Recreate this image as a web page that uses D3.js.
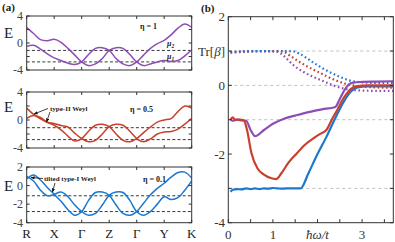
<!DOCTYPE html>
<html><head><meta charset="utf-8">
<script src="https://cdn.jsdelivr.net/npm/d3@7"></script>
<style>
body{margin:0;background:#fff}
svg{display:block}
text{font-family:"Liberation Serif","DejaVu Serif",serif;fill:#222}
</style>
</head><body>
<svg id="c" width="395" height="242"></svg>
<script>
// ---------- Panel (a): band structures ----------
const kLabels = ["R","X","Γ","Z","Γ","Y","K"];
const kGrid = [0,0.25,0.5,0.75,1,1.25,1.5,1.75,2,2.25,2.5,2.75,3,3.25,3.5,3.75,4,4.25,4.5,4.75,5,5.25,5.5,5.75,6];
const eta1BandA  = [-0.5,-0.35,-0.9,-1.6,-2.2,-2.6,-3.0,-3.2,-2.8,-1.7,-0.8,-0.7,-1.1,-2.3,-3.1,-3.35,-2.8,-1.8,-0.8,-0.1,0.4,1.2,2.2,2.8,2.3];
const eta1BandB  = [2.3,1.4,0.5,0.35,0.55,0.1,-0.8,-1.8,-2.8,-3.35,-3.1,-2.3,-1.1,-0.7,-0.8,-1.7,-2.8,-3.35,-3.1,-2.8,-2.6,-2.75,-2.6,-1.9,-1.0];
const eta05BandA = [1.7,0.8,0.15,-0.32,-0.5,-0.8,-1.0,-1.9,-2.65,-3.1,-2.9,-2.0,-0.95,-0.6,-0.75,-1.6,-2.65,-3.1,-2.7,-2.0,-1.7,-1.65,-1.3,-0.6,0.25];
const eta05BandB = [0.25,0.65,0.35,-0.32,-0.75,-1.4,-2.3,-3.0,-2.65,-1.6,-0.75,-0.6,-0.95,-2.0,-2.9,-3.1,-2.65,-1.8,-1.0,-0.3,0.0,0.2,1.2,2.0,1.7];
const eta01BandA = [0.7,1.15,0.6,-0.2,-0.95,-1.7,-2.6,-3.2,-2.8,-1.6,-0.75,-0.7,-1.05,-2.1,-3.0,-3.2,-2.8,-1.9,-1.0,-0.3,0.25,0.9,1.4,1.45,0.8];
const eta01BandB = [1.0,0.5,-0.5,-1.1,-0.95,-0.7,-1.2,-2.1,-2.8,-3.2,-3.0,-2.1,-1.05,-0.7,-0.75,-1.6,-2.8,-3.2,-2.8,-2.0,-1.2,-1.5,-1.3,-0.5,0.5];
const mu2 = -1.1, mu1 = -2.8;
const etaLabels = ["η = 1","η = 0.5","η = 0.1"];
const yTicksTop = [4,0,-4], yTicksMid = [4,0,-4], yTicksBot = [2,0,-2,-4];

// ---------- Panel (b): Tr[beta] vs frequency ----------
const blueSolidX = [0.05,0.1,0.2,0.3,0.4,0.5,0.6,0.7,0.8,0.9,1.0,1.1,1.2,1.3,1.4,1.5,1.62,1.8,2.0,2.2,2.4,2.6,2.75,2.9,3.1,3.4,3.7];
const blueSolidY = [-3.1,-3.04,-3.02,-3.03,-3.0,-3.02,-3.0,-3.02,-3.0,-3.01,-2.99,-3.0,-3.01,-3.0,-3.0,-3.0,-3.0,-2.55,-2.0,-1.5,-0.95,-0.45,-0.18,-0.06,-0.03,-0.03,-0.03];
const redSolidX = [0.05,0.1,0.15,0.25,0.35,0.42,0.52,0.66,0.8,0.95,1.07,1.19,1.35,1.53,1.7,1.9,2.05,2.2,2.34,2.45,2.55,2.65,2.75,2.9,3.1,3.4,3.7];
const redSolidY = [-1.0,-0.93,-1.0,-1.0,-1.02,-1.3,-1.98,-2.43,-2.6,-2.7,-2.73,-2.56,-2.25,-1.99,-1.75,-1.55,-1.42,-1.3,-0.95,-0.7,-0.45,-0.25,-0.1,-0.02,0.0,0.0,0.0];
const purpleSolidX = [0.05,0.1,0.2,0.3,0.4,0.5,0.6,0.8,1.0,1.25,1.5,1.8,2.1,2.4,2.5,2.6,2.7,2.8,3.0,3.3,3.7];
const purpleSolidY = [-1.0,-1.03,-1.0,-1.02,-1.03,-1.3,-1.48,-1.3,-1.12,-0.97,-0.88,-0.78,-0.7,-0.63,-0.4,-0.15,0.02,0.08,0.1,0.11,0.12];
const purpleDotX = [0.05,0.3,0.6,0.9,1.1,1.25,1.45,1.7,1.9,2.1,2.35,2.55,2.75,3.0,3.3,3.7];
const purpleDotY = [0.97,0.99,1.0,1.0,0.98,0.85,0.6,0.38,0.25,0.14,0.0,-0.08,-0.13,-0.15,-0.16,-0.16];
const redDotX = [0.05,0.4,0.8,1.1,1.25,1.4,1.6,1.8,2.0,2.2,2.4,2.6,2.8,3.0,3.3,3.7];
const redDotY = [0.95,0.98,1.0,1.0,0.97,0.85,0.68,0.53,0.4,0.27,0.15,0.06,0.0,-0.04,-0.06,-0.07];
const blueDotX = [0.05,0.4,0.8,1.2,1.45,1.6,1.75,1.9,2.1,2.3,2.5,2.7,2.9,3.1,3.4,3.7];
const blueDotY = [0.97,0.99,1.0,1.0,0.99,0.92,0.8,0.67,0.51,0.37,0.25,0.15,0.1,0.08,0.07,0.07];
const bYTickLabels = ["2","Tr[β]","0","","-2","","-4"];
const bYTicks = [2,1,0,-1,-2,-3,-4];
const bXTickLabels = ["0","1","ħω/t","3"];
const bGridY = [1,0,-1,-3];

const PURPLE = "#8e4db6", RED = "#c8412c", BLUE = "#1b78cf", AX = "#333";

const svg = d3.select("#c");
const defs = svg.append("defs");
defs.append("marker").attr("id","arr").attr("viewBox","0 0 10 10").attr("refX",9).attr("refY",5)
  .attr("markerWidth",5).attr("markerHeight",5).attr("orient","auto")
  .append("path").attr("d","M0,1 L10,5 L0,9 z").attr("fill","#111");

// ---------- Panel (a) ----------
const xa = d3.scaleLinear().domain([0,6]).range([26.7,191.7]);
const panels = [
  {a:eta1BandA,b:eta1BandB,color:PURPLE,dom:[-4,4],rng:[70,16],ticks:yTicksTop,eta:etaLabels[0],etaX:140,etaY:29,eY:33},
  {a:eta05BandA,b:eta05BandB,color:RED,dom:[-4,4],rng:[148,92],ticks:yTicksMid,eta:etaLabels[1],etaX:130,etaY:112,eY:107},
  {a:eta01BandA,b:eta01BandB,color:BLUE,dom:[-4,2],rng:[222.7,167],ticks:yTicksBot,eta:etaLabels[2],etaX:143,etaY:182,eY:186}
];
panels.forEach((p,i)=>{
  const y = d3.scaleLinear().domain(p.dom).range(p.rng);
  const g = svg.append("g");
  const cid = "clipa"+i;
  defs.append("clipPath").attr("id",cid).append("rect")
    .attr("x",xa(0)).attr("y",p.rng[1]).attr("width",xa(6)-xa(0)).attr("height",p.rng[0]-p.rng[1]);
  // dashed chemical potentials
  [mu2,mu1].forEach(m=>{
    g.append("line").attr("x1",xa(0)).attr("x2",xa(6)).attr("y1",y(m)).attr("y2",y(m))
      .attr("stroke","#222").attr("stroke-width",0.9).attr("stroke-dasharray","3,2.2");
  });
  const line = d3.line().x((d,j)=>xa(kGrid[j])).y(d=>y(d)).curve(d3.curveCatmullRom.alpha(0.5));
  [p.a,p.b].forEach(arr=>{
    g.append("path").attr("d",line(arr)).attr("fill","none").attr("stroke",p.color)
      .attr("stroke-width",1.5).attr("clip-path",`url(#${cid})`);
  });
  // frame
  g.append("rect").attr("x",xa(0)).attr("y",p.rng[1]).attr("width",xa(6)-xa(0)).attr("height",p.rng[0]-p.rng[1])
    .attr("fill","none").attr("stroke",AX).attr("stroke-width",1);
  // x ticks (inward, top and bottom)
  kGrid.filter((k,j)=>j%4===0).forEach(k=>{
    g.append("line").attr("x1",xa(k)).attr("x2",xa(k)).attr("y1",p.rng[0]).attr("y2",p.rng[0]-3).attr("stroke",AX);
    g.append("line").attr("x1",xa(k)).attr("x2",xa(k)).attr("y1",p.rng[1]).attr("y2",p.rng[1]+3).attr("stroke",AX);
  });
  // y ticks every 2
  d3.range(p.dom[0],p.dom[1]+0.1,2).forEach(v=>{
    g.append("line").attr("x1",xa(0)).attr("x2",xa(0)+3).attr("y1",y(v)).attr("y2",y(v)).attr("stroke",AX);
    g.append("line").attr("x1",xa(6)).attr("x2",xa(6)-3).attr("y1",y(v)).attr("y2",y(v)).attr("stroke",AX);
  });
  p.ticks.forEach(v=>{
    g.append("text").attr("x",23).attr("y",y(v)).attr("dy","0.35em").attr("text-anchor","end")
      .attr("font-size",12).style("fill","#444").text(v);
  });
  g.append("text").attr("x",4).attr("y",p.eY).attr("dy","0.35em").attr("font-size",15).text("E");
  g.append("text").attr("x",p.etaX).attr("y",p.etaY).attr("font-size",8).attr("font-weight","bold").text(p.eta);
});
// mu labels (top panel)
const yTop = d3.scaleLinear().domain([-4,4]).range([70,16]);
svg.append("text").attr("x",167).attr("y",yTop(mu2)-4).attr("font-size",8).attr("font-weight","bold").attr("font-style","italic")
  .html('μ<tspan font-size="5.5" dy="2">2</tspan>');
svg.append("text").attr("x",167).attr("y",yTop(mu1)-3).attr("font-size",8).attr("font-weight","bold").attr("font-style","italic")
  .html('μ<tspan font-size="5.5" dy="2">1</tspan>');
// k labels
kLabels.forEach((l,j)=>{
  svg.append("text").attr("x",xa(j)).attr("y",238).attr("text-anchor","middle").attr("font-size",13).text(l);
});
// annotations
svg.append("text").attr("x",50).attr("y",111).attr("font-size",7).attr("font-weight","bold").text("type-II Weyl");
svg.append("line").attr("x1",48).attr("y1",108.5).attr("x2",34).attr("y2",114).attr("stroke","#111").attr("stroke-width",0.8).attr("marker-end","url(#arr)");
svg.append("line").attr("x1",50).attr("y1",112).attr("x2",46.5).attr("y2",122).attr("stroke","#111").attr("stroke-width",0.8).attr("marker-end","url(#arr)");
svg.append("text").attr("x",44).attr("y",181).attr("font-size",7).attr("font-weight","bold").text("tilted type-I Weyl");
svg.append("line").attr("x1",43).attr("y1",178.5).attr("x2",31).attr("y2",177.5).attr("stroke","#111").attr("stroke-width",0.8).attr("marker-end","url(#arr)");
svg.append("line").attr("x1",55).attr("y1",183).attr("x2",52.5).attr("y2",192).attr("stroke","#111").attr("stroke-width",0.8).attr("marker-end","url(#arr)");
svg.append("text").attr("x",2).attr("y",11).attr("font-size",11).attr("font-weight","bold").text("(a)");

// ---------- Panel (b) ----------
const xb = d3.scaleLinear().domain([0,3.7]).range([228.3,393.3]);
const yb = d3.scaleLinear().domain([-4,2]).range([222.7,16.7]);
const gb = svg.append("g");
defs.append("clipPath").attr("id","clipb").append("rect")
  .attr("x",xb(0)).attr("y",yb(2)).attr("width",xb(3.7)-xb(0)).attr("height",yb(-4)-yb(2));
bGridY.forEach(v=>{
  gb.append("line").attr("x1",xb(0)).attr("x2",xb(3.7)).attr("y1",yb(v)).attr("y2",yb(v))
    .attr("stroke","#b8b8b8").attr("stroke-width",0.9).attr("stroke-dasharray","3,3");
});
const lb = d3.line().x(d=>xb(d[0])).y(d=>yb(d[1])).curve(d3.curveMonotoneX);
const series = [
  {x:purpleDotX,y:purpleDotY,c:PURPLE,dot:true},
  {x:redDotX,y:redDotY,c:RED,dot:true},
  {x:blueDotX,y:blueDotY,c:BLUE,dot:true},
  {x:purpleSolidX,y:purpleSolidY,c:PURPLE,dot:false},
  {x:blueSolidX,y:blueSolidY,c:BLUE,dot:false},
  {x:redSolidX,y:redSolidY,c:RED,dot:false}
];
series.forEach(s=>{
  const pts = s.x.map((v,i)=>[v,s.y[i]]);
  const p = gb.append("path").attr("d",lb(pts)).attr("fill","none").attr("stroke",s.c)
    .attr("clip-path","url(#clipb)");
  if(s.dot){ p.attr("stroke-width",2.2).attr("stroke-dasharray","1.6,2.6"); }
  else { p.attr("stroke-width",2.2).attr("stroke-linejoin","round"); }
});
gb.append("rect").attr("x",xb(0)).attr("y",yb(2)).attr("width",xb(3.7)-xb(0)).attr("height",yb(-4)-yb(2))
  .attr("fill","none").attr("stroke",AX).attr("stroke-width",1);
d3.range(0,3.71,0.5).forEach(v=>{
  gb.append("line").attr("x1",xb(v)).attr("x2",xb(v)).attr("y1",yb(-4)).attr("y2",yb(-4)-3.5).attr("stroke",AX);
  gb.append("line").attr("x1",xb(v)).attr("x2",xb(v)).attr("y1",yb(2)).attr("y2",yb(2)+3.5).attr("stroke",AX);
});
bYTicks.forEach((v,i)=>{
  gb.append("line").attr("x1",xb(0)).attr("x2",xb(0)+3.5).attr("y1",yb(v)).attr("y2",yb(v)).attr("stroke",AX);
  gb.append("line").attr("x1",xb(3.7)).attr("x2",xb(3.7)-3.5).attr("y1",yb(v)).attr("y2",yb(v)).attr("stroke",AX);
  const lab = bYTickLabels[i];
  if(!lab) return;
  const t = gb.append("text").attr("x",225).attr("y",yb(v)).attr("dy","0.35em").attr("text-anchor","end")
    .attr("font-size",13).style("fill","#333");
  if(lab.startsWith("Tr")){
    t.append("tspan").text("Tr[");
    t.append("tspan").attr("font-style","italic").text("β");
    t.append("tspan").text("]");
  } else t.text(lab);
});
bXTickLabels.forEach((l,i)=>{
  const t = gb.append("text").attr("x",xb(i)).attr("y",239).attr("text-anchor","middle").attr("font-size",13).style("fill","#333");
  if(l.includes("ω")) t.attr("font-style","italic");
  t.text(l);
});
svg.append("text").attr("x",201).attr("y",12).attr("font-size",11).attr("font-weight","bold").text("(b)");
</script>
</body></html>
